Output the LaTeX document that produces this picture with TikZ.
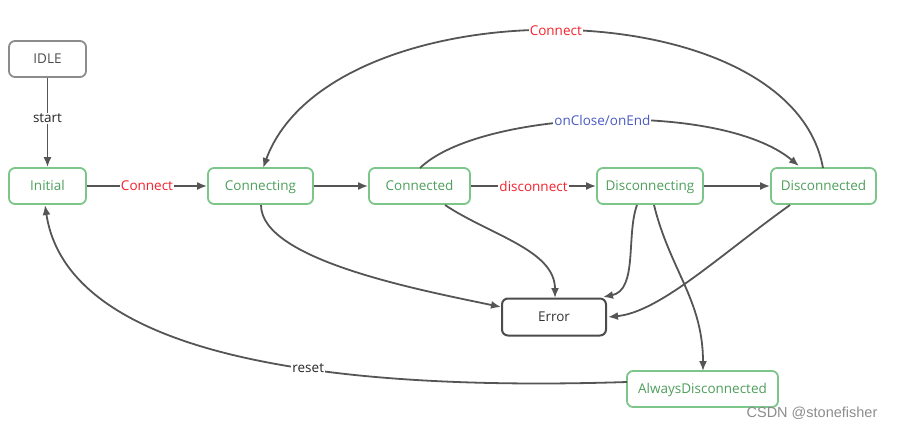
\documentclass[tikz,border=0pt]{standalone}
\usepackage{fontspec}
\setmainfont{Open Sans}
\newfontfamily\wmfont{Liberation Sans}
\usetikzlibrary{arrows.meta}
\definecolor{gborder}{HTML}{7CC68A}
\definecolor{gtext}{HTML}{4E9E5C}
\definecolor{edgec}{HTML}{555555}
\definecolor{redlbl}{HTML}{F5222D}
\definecolor{bluelbl}{HTML}{4A5BC4}
\begin{document}
\begin{tikzpicture}[x=1pt,y=-1pt,
  font=\fontsize{13.5}{15}\selectfont,
  boxbase/.style={line width=1.8pt,rounded corners=6pt,minimum height=36pt,inner sep=0pt,text height=0.95em,text depth=0em},
  state/.style={boxbase,draw=gborder,text=gtext},
  idlebox/.style={boxbase,draw=black!45,text=black!70},
  errbox/.style={boxbase,draw=black!70,line width=2pt,text=black!80,minimum height=37pt},
  edge/.style={draw=edgec,line width=1.8pt,-{Latex[length=10pt,width=8pt]}},
  lbl/.style={fill=white,inner sep=1pt}
]
\useasboundingbox (0,0) rectangle (901,429);
\node[idlebox,minimum width=77pt] (idle) at (47.5,59) {IDLE};
\node[state,minimum width=77pt] (init) at (47.5,186) {Initial};
\node[state,minimum width=105pt] (cing) at (260.5,186) {Connecting};
\node[state,minimum width=101pt] (cted) at (419.5,186) {Connected};
\node[state,minimum width=106pt] (ding) at (650,186) {Disconnecting};
\node[state,minimum width=105pt] (dted) at (823.5,186) {Disconnected};
\node[errbox,minimum width=104pt] (err) at (554,317) {Error};
\node[state,minimum width=151pt] (always) at (702.5,389) {AlwaysDisconnected};
\node[text=black!45,font=\wmfont\fontsize{14.5}{16}\selectfont] (wm) at (812,413) {CSDN @stonefisher};

\coordinate (c1) at (263,168);
\coordinate (d1) at (823,168);
\coordinate (c2) at (420,168);
\coordinate (d2) at (799,166);

\draw[edge] (idle) -- node[pos=0.45,lbl,text=black!85] {start} (init);
\draw[edge] (init) -- node[lbl,text=redlbl] {Connect} (cing);
\draw[edge] (cing) -- (cted);
\draw[edge] (cted) -- node[lbl,text=redlbl] {disconnect} (ding);
\draw[edge] (ding) -- (dted);

\draw[edge] (d1) .. controls (790,-15) and (330,-15) .. node[pos=0.5,lbl,text=redlbl] {Connect} (c1);
\draw[edge] (c2) .. controls (480,110) and (720,100) .. node[pos=0.5,lbl,text=bluelbl] {onClose/onEnd} (d2);

\coordinate (e1) at (261,205);
\coordinate (e1t) at (501,307);
\draw[edge] (e1) .. controls (261,260) and (420,290) .. (e1t);
\coordinate (e2) at (445,205);
\coordinate (e2t) at (555,298);
\draw[edge] (e2) .. controls (490,235) and (555,250) .. (e2t);
\coordinate (e3) at (637,205);
\coordinate (e3t) at (603,297);
\draw[edge] (e3) .. controls (626,235) and (638,290) .. (e3t);
\coordinate (e4) at (790,205);
\coordinate (e4t) at (608,317);
\draw[edge] (e4) .. controls (720,255) and (660,312) .. (e4t);
\coordinate (e5) at (654,205);
\coordinate (e5t) at (703,371);
\draw[edge] (e5) .. controls (670,270) and (703,300) .. (e5t);

\coordinate (r1) at (627,382);
\coordinate (r2) at (45,205);
\draw[edge] (r1) .. controls (380,390) and (70,370) .. node[pos=0.42,lbl,text=black!85] {reset} (r2);
\end{tikzpicture}
\end{document}
